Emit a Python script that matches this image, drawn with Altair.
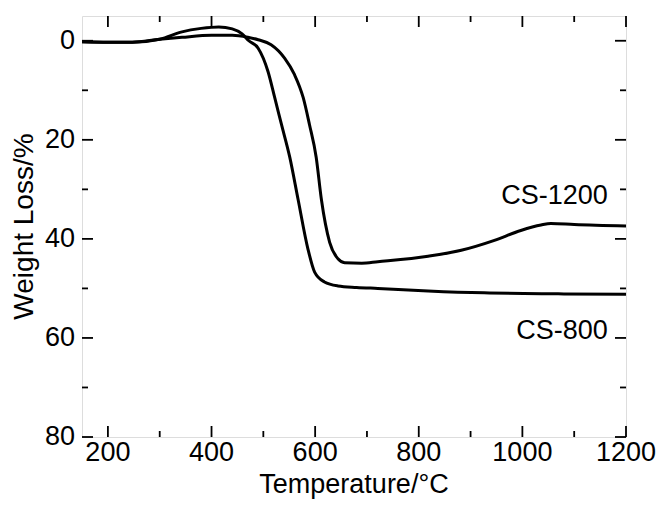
import altair as alt
import pandas as pd

FONT = "Liberation Sans"

# CS-800 curve (temperature in °C, weight loss in %)
temp_800 = [150, 200, 247, 300, 343, 380, 414, 440, 459, 472, 490, 509, 522, 535, 551,
            567, 586, 599, 618, 644, 680, 721, 818, 926, 1069, 1200]
loss_800 = [0.2, 0.3, 0.3, -0.3, -1.8, -2.5, -2.8, -2.4, -1.4, 0.0, 1.5, 6.2, 11.5, 16.9, 23.5,
            32.0, 42.0, 46.7, 48.7, 49.5, 49.8, 50.0, 50.5, 50.9, 51.1, 51.2]

# CS-1200 curve
temp_1200 = [150, 200, 247, 300, 343, 400, 440, 470, 490, 515, 541, 560, 577, 589, 602,
             612, 628, 644, 657, 690, 721, 818, 882, 946, 997, 1036, 1055, 1100, 1200]
loss_1200 = [0.2, 0.3, 0.3, -0.3, -0.7, -1.1, -1.1, -0.7, -0.2, 0.8, 3.5, 6.8, 11.5, 16.9, 23.5,
             32.0, 40.7, 44.0, 44.8, 44.9, 44.6, 43.5, 42.3, 40.3, 38.3, 37.2, 36.9, 37.1, 37.4]

series_names = ["CS-800", "CS-1200"]

x_major = [200, 400, 600, 800, 1000, 1200]
x_minor = [300, 500, 700, 900, 1100]
y_major = [0, 20, 40, 60, 80]
y_minor = [10, 30, 50, 70]

x_title = "Temperature/°C"
y_title = "Weight Loss/%"

label_text = ["CS-1200", "CS-800"]
label_x = [1165, 1165]
label_y = [31.3, 58.6]

X_DOMAIN = [150, 1200]
Y_DOMAIN = [-5, 80]
W, H = 544, 421
MAJOR, MINOR = 11, 6  # inward tick lengths in pixels

px_x = (X_DOMAIN[1] - X_DOMAIN[0]) / W   # data units per pixel, x
px_y = (Y_DOMAIN[1] - Y_DOMAIN[0]) / H   # data units per pixel, y

df = pd.concat([
    pd.DataFrame({"T": temp_800, "W": loss_800, "series": series_names[0]}),
    pd.DataFrame({"T": temp_1200, "W": loss_1200, "series": series_names[1]}),
], ignore_index=True)

labels_df = pd.DataFrame({"text": label_text, "x": label_x, "y": label_y})

# inward ticks on all four sides, built from the tick-value lists
rows = []
for vals, ln in ((x_major, MAJOR), (x_minor, MINOR)):
    for v in vals:
        rows.append({"x": v, "x2": v, "y": Y_DOMAIN[1], "y2": Y_DOMAIN[1] - ln * px_y})
        rows.append({"x": v, "x2": v, "y": Y_DOMAIN[0], "y2": Y_DOMAIN[0] + ln * px_y})
for vals, ln in ((y_major, MAJOR), (y_minor, MINOR)):
    for v in vals:
        rows.append({"x": X_DOMAIN[0], "x2": X_DOMAIN[0] + ln * px_x, "y": v, "y2": v})
        rows.append({"x": X_DOMAIN[1], "x2": X_DOMAIN[1] - ln * px_x, "y": v, "y2": v})
ticks_df = pd.DataFrame(rows)

# tick labels placed just outside the frame
xlab_df = pd.DataFrame({"x": x_major, "y": [Y_DOMAIN[1] + 3 * px_y] * len(x_major),
                        "text": [str(v) for v in x_major]})
ylab_df = pd.DataFrame({"x": [X_DOMAIN[0] - 7 * px_x] * len(y_major), "y": y_major,
                        "text": [str(v) for v in y_major]})
xtitle_df = pd.DataFrame({"x": [(X_DOMAIN[0] + X_DOMAIN[1]) / 2],
                          "y": [Y_DOMAIN[1] + 56 * px_y], "text": [x_title]})
ytitle_df = pd.DataFrame({"x": [X_DOMAIN[0] - 49 * px_x],
                          "y": [(Y_DOMAIN[0] + Y_DOMAIN[1]) / 2], "text": [y_title]})

xs = alt.Scale(domain=X_DOMAIN, nice=False, zero=False)
ys = alt.Scale(domain=Y_DOMAIN, reverse=True, nice=False, zero=False)


def enc_xy(fx="x", fy="y"):
    return dict(x=alt.X(f"{fx}:Q", scale=xs, axis=None), y=alt.Y(f"{fy}:Q", scale=ys, axis=None))


lines = alt.Chart(df).mark_line(color="black", strokeWidth=3, interpolate="monotone").encode(
    detail="series:N", **enc_xy("T", "W"))

ticks = alt.Chart(ticks_df).mark_rule(color="black", strokeWidth=1.8).encode(
    x2="x2:Q", y2="y2:Q", **enc_xy())

xlabels = alt.Chart(xlab_df).mark_text(align="center", baseline="top", font=FONT, fontSize=27,
                                       color="black").encode(text="text:N", **enc_xy())
ylabels = alt.Chart(ylab_df).mark_text(align="right", baseline="middle", font=FONT, fontSize=27,
                                       color="black").encode(text="text:N", **enc_xy())
xtitle = alt.Chart(xtitle_df).mark_text(align="center", baseline="alphabetic", font=FONT,
                                        fontSize=27, color="black").encode(text="text:N", **enc_xy())
ytitle = alt.Chart(ytitle_df).mark_text(align="center", baseline="alphabetic", angle=270, font=FONT,
                                        fontSize=28, color="black").encode(text="text:N", **enc_xy())

texts = alt.Chart(labels_df).mark_text(align="right", baseline="middle", font=FONT,
                                        fontSize=27, color="black").encode(text="text:N", **enc_xy())

chart = alt.layer(lines, ticks, xlabels, ylabels, xtitle, ytitle, texts).properties(
    width=W, height=H,
    autosize=alt.AutoSizeParams(type="none"),
    padding={"left": 74, "top": 8, "right": 30, "bottom": 63},
).configure_view(stroke="black", strokeWidth=2).configure(background="white")

chart.save("out.html", embed_options={"renderer": "svg", "actions": False})
